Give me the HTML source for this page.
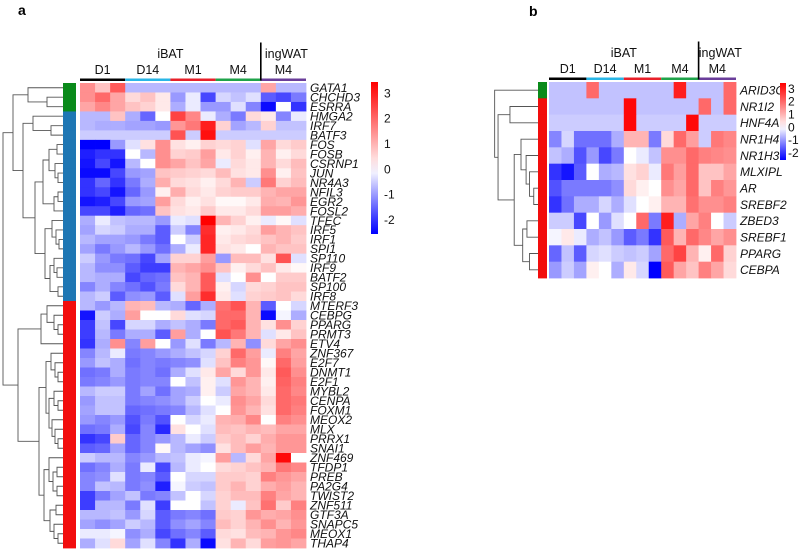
<!DOCTYPE html>
<html><head><meta charset="utf-8"><style>
html,body{margin:0;padding:0;background:#fff;}
svg{display:block;font-family:"Liberation Sans",Arial,sans-serif;}
.gl{font-style:italic;font-size:12px;fill:#111;}
.hd{font-size:12.5px;fill:#111;}
.tk{font-size:12px;fill:#111;}
</style></head><body>
<svg id="fig" width="800" height="552" viewBox="0 0 800 552">
<text x="18" y="15" font-weight="bold" font-size="14">a</text>
<text x="529" y="16" font-weight="bold" font-size="14">b</text>
<g id="ga"></g>
<g id="gb"></g>
</svg>
<script>
const genesA = ["GATA1","CHCHD3","ESRRA","HMGA2","IRF7","BATF3","FOS","FOSB","CSRNP1","JUN","NR4A3","NFIL3","EGR2","FOSL2","TFEC","IRF5","IRF1","SPI1","SP110","IRF9","BATF2","SP100","IRF8","MTERF3","CEBPG","PPARG","PRMT3","ETV4","ZNF367","E2F7","DNMT1","E2F1","MYBL2","CENPA","FOXM1","MEOX2","MLX","PRRX1","SNAI1","ZNF469","TFDP1","PREB","PA2G4","TWIST2","ZNF511","GTF3A","SNAPC5","MEOX1","THAP4"];
const valuesA = [
[1.5,0.8,2.2,-0.7,-0.7,-0.7,-0.7,-0.7,-0.7,-0.7,-0.7,-0.7,1.2,-0.7,-0.7],
[1.5,2,1.2,0.5,0.8,0.3,-1,-0.2,-1.8,-0.4,-0.6,-0.3,-1.6,-1.8,-1.3],
[1.2,1.6,1.2,0.8,0.6,0.3,-0.8,-0.2,-1,-1,-0.3,-1.2,-2.4,0,-2],
[-0.7,-0.7,0.8,-0.8,-1.5,0,2.5,1.6,-0.2,-0.8,-1.3,0.5,0.3,-1.2,-0.2],
[-0.7,-0.8,-0.8,-0.9,-0.9,-1,1.4,1.8,3,0.6,-0.9,-0.7,0.6,-0.6,-0.6],
[-0.5,-0.5,-0.5,-0.5,-0.5,-0.5,2.3,-0.5,3.2,-0.5,-0.5,-0.5,-0.5,-0.5,-0.5],
[-2.5,-2.5,-1,-0.3,0.4,1.5,0.4,0.2,0.6,0.5,0.6,-0.3,1.2,0.5,0.7],
[-2.2,-2,-2,0,-0.7,1.5,0.6,0.7,1.3,0.3,0.6,0.2,1,0.2,0.5],
[-2.3,-1.8,-2.3,-0.7,0,1.5,1.2,0.8,1.2,-0.2,0.5,0.3,1,0.5,0.9],
[-2.4,-2.4,-1.8,-1,-0.9,0.8,0.7,0.6,0.5,0.9,0.4,0.3,1.5,0.2,0.8],
[-2,-1.5,-2,-1.3,-0.8,1.1,0.5,0.4,0.2,0.5,1,-0.5,1.8,0.6,0.9],
[-2,-1.8,-2.3,-1.5,-1,0.2,1.1,0.5,0.3,0.6,0.7,0.7,1,1.2,1.2],
[-2.3,-2.2,-1.8,-1,-0.9,1.3,0.5,0.2,0.4,0.1,0.1,0.3,1.1,1,1.4],
[-1.8,-1.8,-2.2,-1.5,-1.4,0.8,0.4,0.3,0.7,0.3,0.3,0.5,1.3,1.3,1.1],
[-0.8,-0.2,-0.6,-0.7,-0.7,-1,-0.2,-0.3,3.4,1,0.6,0.2,-0.2,0.1,-0.3],
[-0.9,-0.4,-0.5,-0.8,-0.8,-1.6,-0.5,-1.2,2.8,0.2,0.3,0.5,1.3,1,0.8],
[-0.7,-0.9,-0.9,-1,-1.3,-1.6,0,-0.5,2.9,0.3,0.5,0.6,0.8,1,0.7],
[-0.9,-1.3,-1,-0.7,-1,-1.4,-0.8,-0.2,2.9,0.4,0.3,0,1,0.8,0.8],
[-0.5,-1,-1.3,-1.4,-1.8,-0.9,0.6,0.6,1.3,-1,0.9,0.9,0.4,2.3,-0.3],
[-0.7,-1.1,-1.1,-1.6,-1.9,-1.9,1,1.2,1.5,0.8,0.2,0.5,0.8,0.3,0.1],
[-0.7,-0.8,-0.8,-1.8,-1.5,-1.4,0.8,1,2.2,-0.3,0,1.5,0,0.7,0.7],
[-1.2,-0.8,-1.2,-1.4,-1.7,-1.3,0.5,1,2.2,0.2,-0.4,0.5,0.6,0.8,0.8],
[-0.7,-0.5,-1.6,-1.1,-1,-1.6,-0.3,1.3,2.8,0.3,-0.3,0.6,0.7,0.8,0.5],
[-0.7,-1,-0.7,1,0.9,-0.7,-0.8,-1.5,-0.8,1.9,2.3,1,-1.6,0,-0.4],
[-2.3,-0.5,-0.8,1.3,0,0,0.5,-0.3,-0.4,2,2,1,-2.4,-0.1,-0.8],
[-1.9,-0.6,-1.8,-0.4,-0.4,-0.8,-0.6,-0.8,-1.3,2,2.2,1,0.4,1.5,0.6],
[-1.9,-0.7,-1.3,-0.8,-0.8,-1.6,1.3,-0.8,0,2.3,1.8,1,-0.3,0.3,0.8],
[-2,-0.8,1.5,-1.2,1.3,0,-1,-0.3,-1.3,-0.7,1,-1.1,0.5,1.2,1.5],
[-1.2,-0.7,-0.2,-1.3,-1.2,-1,-0.8,-0.6,-0.4,0.6,2,1.3,-0.2,1.7,1.2],
[-1,-0.6,-0.8,-1.4,-1.2,-1.3,-1.2,-1.1,-0.3,0.8,1.7,1.4,0.1,2,1.3],
[-1.4,-1.3,-0.8,-1.3,-1.2,-1.4,-0.8,-0.3,0.3,1.2,0.5,1.4,0.3,2.2,1.5],
[-1.3,-1.2,-1,-1.3,-1.2,-1.2,0,-0.6,0.2,-0.3,1.4,1,0.2,2.1,1.7],
[-0.7,-0.5,-0.5,-1.3,-0.9,-1.4,-0.9,-0.8,0.2,-0.5,1.2,1,0.3,2,1.6],
[-1,-0.6,-0.6,-1.3,-1.2,-1.1,-0.9,-0.5,0,-0.2,1.5,1.2,0.5,2,1.8],
[-0.9,-0.6,-0.6,-1.5,-1.4,-1.3,-1.2,-0.7,-0.3,0,1.4,1,0.4,2,1.7],
[-1,-1.2,-1,-1.7,-1.3,-1.7,0,-0.4,-0.2,1,1.1,1.6,0,1.7,1.5],
[-1.4,-1.3,-0.8,-1.8,-1.2,-2.1,0.4,0,-0.3,0.9,0.8,1,0.9,1.2,1.2],
[-2,-1.8,0.7,-1.5,-1.2,-1,-0.7,-0.2,-0.5,0.7,0.9,0.6,1.1,1.4,1.4],
[-1.6,-1.5,-0.9,-1.5,-1.2,0.1,-0.7,-0.9,-1.1,0.4,0.9,1.3,1,1.4,1.4],
[-0.5,-0.7,-0.7,-1.2,-1,-0.7,-0.6,-0.2,-0.1,1.3,-0.7,0.5,1.2,3.3,0],
[-1.4,-1.2,-0.8,-1.3,-0.2,-1.8,-0.7,-0.2,0,0.5,0.6,0.8,1,1.8,1.6],
[-1.2,-1.1,-0.3,-1.3,-1.2,-1.6,0,-0.4,-0.4,0.7,0.7,0.6,1.7,1.4,1.2],
[-1.2,-0.6,-0.7,-1.3,-1.1,-2.2,-0.1,-0.5,-0.6,0.7,1,0.6,1.1,1.3,1],
[-1.9,-1.3,-0.9,-0.6,-1.3,-1.2,-0.6,0,-0.4,0.6,0.9,0.9,1.7,1.2,1],
[-1.9,-0.7,-0.7,-1.3,-0.3,-1.9,0,0,-0.6,0.6,-0.2,0.8,1.9,0.7,1.7],
[-0.7,-0.7,-0.6,-1,-0.4,-1.6,-1.3,-1.2,-1.4,0.7,0.6,1.4,1.1,1.2,1.5],
[-0.9,-1.1,-0.9,-0.5,-0.7,-1.6,-1.1,-0.9,-1.2,0.9,0.6,1,1.5,1,1.4],
[-0.2,-0.2,-0.1,-1.1,-0.8,-1.8,-1.4,-1.2,-1.6,0.5,0.4,0.9,1,1.4,1.6],
[-0.8,-0.3,0.5,-0.9,-0.3,-1.2,-2,-0.8,-2.4,0.4,1,0.5,1.3,1.4,1.2]
];
const clusterA = ["green","green","green","blue","blue","blue","blue","blue","blue","blue","blue","blue","blue","blue","blue","blue","blue","blue","blue","blue","blue","blue","blue","red","red","red","red","red","red","red","red","red","red","red","red","red","red","red","red","red","red","red","red","red","red","red","red","red","red"];
const genesB = ["ARID3C","NR1I2","HNF4A","NR1H4","NR1H3","MLXIPL","AR","SREBF2","ZBED3","SREBF1","PPARG","CEBPA"];
const valuesB = [
[-0.6,-0.6,-0.6,2,-0.6,-0.6,-0.6,-0.6,-0.6,-0.6,3,-0.6,-0.6,-0.6,2],
[-0.6,-0.6,-0.6,-0.6,-0.6,-0.6,3.3,-0.6,-0.6,-0.6,-0.6,-0.6,2,-0.6,2],
[-0.5,-0.5,-0.5,-0.5,-0.5,-0.5,3.3,-0.5,-0.5,-0.5,-0.5,3.3,-0.5,-0.5,-0.5],
[-1.2,-0.4,-1.4,-1.4,-1.4,-0.8,1,1,-1.3,0.5,2,1.3,-0.5,1.8,1.6],
[-0.6,-0.8,-1.7,-1,-1.8,-1.3,0,-0.2,-0.6,1.5,1.5,2,1.7,1.6,1.5],
[-2,-2.3,-1.6,0,-0.8,-0.7,0.4,0.6,-0.2,1.8,1.3,2,0.8,0.8,1.2],
[-1.7,-1.3,-1.3,-1.3,-1.3,-1.1,0.5,0.2,0,1.5,1.2,2,0.8,1.7,1.4],
[-2,-1.4,-0.8,-0.8,-0.4,-0.8,-0.3,0,0.2,1,1,1.9,1.5,1.5,1.7],
[-0.5,-0.5,-1.8,0,-1,-0.3,0,2,-1.3,3,-0.8,1.2,1.7,0,-0.5],
[-0.1,0.3,-0.2,-0.8,-0.6,-1,-1.6,-1.3,-2,2.2,1,2,1.6,1.2,1.5],
[-1.5,-0.6,-1.6,-0.4,-0.3,-0.5,-0.6,-0.5,-0.9,2,2.5,1,0.2,2,0.6],
[-1,-0.5,-0.9,0.2,0,-0.8,0.3,-0.4,-2.6,2.2,1.2,0.8,1.7,1.2,0.5]
];
const clusterB = ["green","red","red","red","red","red","red","red","red","red","red","red"];
const groupNames = ["D1","D14","M1","M4","M4"];
const groupColors = ["#000","#29b6e6","#e8202a","#1fa34a","#6a3d9a"];
const cbTicks = [3,2,1,0,-1,-2];
// dendrogram trees: [left,right,height]
const treeA = [[[0,[1,2,16],35],[[3,[4,5,12],30],[[[[6,7,6],[8,[9,10,5],8],14],[[11,12,5],13,9],20],[[14,[15,[16,17,4],7],11],[[18,[19,20,6],9],[21,22,5],13],18],28],40],50],[[[23,[24,[25,26,5],9],16],27,22],[[[28,[29,[30,31,5],8],12],[[32,[33,34,5],9],[35,[36,[37,38,5],8],11],14],17],[[39,[[40,41,6],[42,43,6],10],14],[[44,45,7],[46,[47,48,5],9],13],19],24],45],60];
const treeB = [0,[[1,2,33],[[3,[4,[5,[6,7,5],10],14],20],[[8,9,13],[10,11,10],18],28],47],51];

const NS="http://www.w3.org/2000/svg";
function mk(parent,tag,attrs){const e=document.createElementNS(NS,tag);for(const k in attrs)e.setAttribute(k,attrs[k]);parent.appendChild(e);return e;}
function color(v){
  let r,g,b;
  if(v>=0){const t=Math.min(v/3.4,1);r=255;g=Math.round(255*(1-t));b=g;}
  else{const t=Math.min(-v/2.5,1);b=255;r=Math.round(255*(1-t));g=r;}
  return `rgb(${r},${g},${b})`;
}
const sideCol={green:"#0a8a1a",blue:"#1f77b4",red:"#f20d0d"};

function panel(g,cfg){
  const {genes,vals,clusters,x0,x1,rowY,side,labX,fs,head,cb,tree,dx0,dx1}=cfg;
  const n=genes.length, cw=(x1-x0)/15;
  const yS=i=>rowY(i), yE=i=>rowY(i+1);
  vals.forEach((row,i)=>row.forEach((v,j)=>{
    const r=mk(g,"rect",{x:x0+j*cw,y:yS(i),width:cw+0.4,height:yE(i)-yS(i)+0.4,fill:color(v)});
    
    
  }));
  clusters.forEach((c,i)=>{
    const r=mk(g,"rect",{x:side[0],y:yS(i),width:side[1]-side[0],height:yE(i)-yS(i)+0.4,fill:sideCol[c]});
    
    
  });
  genes.forEach((gn,i)=>{
    const t=mk(g,"text",{x:labX,y:(yS(i)+yE(i))/2+fs*0.36,class:"gl","font-size":fs});
    t.textContent=gn;
    
    
  });
  // header
  const gw=(x1-x0)/5;
  groupNames.forEach((nm,k)=>{
    const l=mk(g,"rect",{x:x0+k*gw,y:head.barY,width:gw,height:2.5,fill:groupColors[k]});
    
    
    const t=mk(g,"text",{x:x0+k*gw+gw/2,y:head.labY,"text-anchor":"middle",class:"hd"});
    t.textContent=nm;
    
    
  });
  const vl=mk(g,"line",{x1:x0+4*gw,x2:x0+4*gw,y1:head.barY-36,y2:head.barY+2,stroke:"#000","stroke-width":1.6});
  
  
  let t=mk(g,"text",{x:x0+2*gw,y:head.labY-16,"text-anchor":"middle",class:"hd"});t.textContent="iBAT";
  
  
  t=mk(g,"text",{x:x0+4.5*gw+3,y:head.labY-16,"text-anchor":"middle",class:"hd"});t.textContent="ingWAT";
  
  
  // colorbar
  const grad=mk(g,"linearGradient",{id:"grad"+cfg.id,x1:0,y1:0,x2:0,y2:1});
  const top=3.45,bot=-2.55;
  for(let s=0;s<=10;s++){const v=top-(top-bot)*s/10;mk(grad,"stop",{offset:s/10,"stop-color":color(v)});}
  const cr=mk(g,"rect",{x:cb.x,y:cb.y0,width:cb.w,height:cb.y1-cb.y0,fill:`url(#grad${cfg.id})`});
  
  
  cbTicks.forEach(v=>{
    const y=cb.y0+(top-v)/(top-bot)*(cb.y1-cb.y0);
    const tt=mk(g,"text",{x:cb.lx,y:y+4,class:"tk","font-size":cb.fs});
    tt.textContent=v<0?"-"+(-v):String(v);
    
    
  });
  // dendrogram
  const scale=(dx1-dx0)/60;
  function draw(node){
    if(typeof node==="number")return {y:(yS(node)+yE(node))/2,x:dx1};
    const a=draw(node[0]),b=draw(node[1]);
    const x=dx1-node[2]*scale;
    const p=mk(g,"path",{d:`M${a.x},${a.y}H${x}V${b.y}H${b.x}`,fill:"none",stroke:"#555","stroke-width":0.9});
    
    
    return {y:(a.y+b.y)/2,x};
  }
  draw(tree);
}
const rowYA=i=> i<=23 ? 83+i*(218/23) : 301+(i-23)*(247/26);
panel(document.getElementById("ga"),{id:"a",genes:genesA,vals:valuesA,clusters:clusterA,x0:80,x1:306,rowY:rowYA,side:[63,76],labX:310,fs:12,
  head:{barY:78.5,labY:74},cb:{x:371,w:7,y0:82,y1:234,lx:384,fs:12},tree:treeA,dx0:3,dx1:63});
panel(document.getElementById("gb"),{id:"b",genes:genesB,vals:valuesB,clusters:clusterB,x0:549,x1:736,rowY:i=>82+i*(196/12),side:[538,547],labX:740,fs:12,
  head:{barY:77.5,labY:73},cb:{x:780,w:6,y0:83,y1:160,lx:788,fs:11},tree:treeB,dx0:487,dx1:538});
</script>
</body></html>
